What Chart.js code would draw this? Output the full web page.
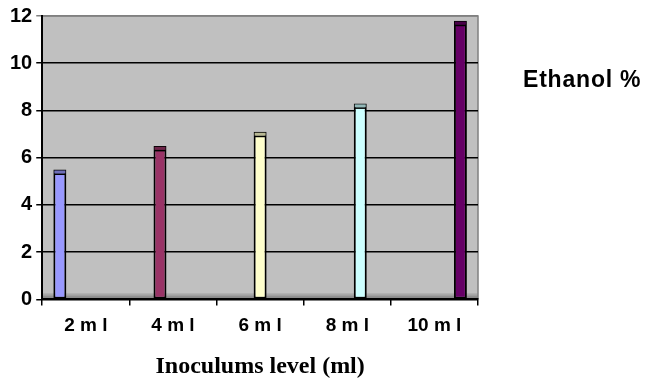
<!DOCTYPE html>
<html>
<head>
<meta charset="utf-8">
<script src="https://cdn.jsdelivr.net/npm/chart.js@4/dist/chart.umd.min.js"></script>
<style>
html,body{margin:0;padding:0;background:#fff;}
#wrap{position:relative;width:651px;height:385px;}
</style>
</head>
<body>
<div id="wrap"><canvas id="c" width="651" height="385"></canvas></div>
<script>
const categories = ["2 m l", "4 m l", "6 m l", "8 m l", "10 m l"];
const ethanol = [5.5, 6.5, 7.1, 8.3, 11.8];
const barColors = ["#9999FF", "#993366", "#FFFFCC", "#CCFFFF", "#660066"];
const capColors = ["#6E6EB8", "#6E2549", "#B8B893", "#93B8B8", "#490049"];
const yTicks = [0, 2, 4, 6, 8, 10, 12];
const legendText = "Ethanol %";
const xTitle = "Inoculums level (ml)";

const datasets = ethanol.map((v, i) => ({
  label: legendText,
  data: categories.map((c, j) => (j === i ? v : null)),
  backgroundColor: barColors[i],
  borderColor: "#000",
  borderWidth: 2,
  borderSkipped: false,
  categoryPercentage: 0.745,
  barPercentage: 1.0,
  grouped: true
}));

const bgPlugin = {
  id: "bg",
  beforeDraw(chart) {
    const {ctx, chartArea: a} = chart;
    ctx.save();
    ctx.fillStyle = "#C0C0C0";
    ctx.fillRect(a.left, a.top, a.right - a.left, a.bottom - a.top);
    ctx.fillStyle = "#A8A8A8";
    ctx.fillRect(a.left, a.bottom - 6, a.right - a.left, 2);
    ctx.fillStyle = "#909090";
    ctx.fillRect(a.left, a.bottom - 4, a.right - a.left, 2);
    ctx.fillStyle = "#787878";
    ctx.fillRect(a.left, a.bottom - 2, a.right - a.left, 2);
    ctx.strokeStyle = "#808080";
    ctx.lineWidth = 1.5;
    ctx.beginPath();
    ctx.moveTo(a.left, a.top);
    ctx.lineTo(a.right, a.top);
    ctx.lineTo(a.right, a.bottom);
    ctx.stroke();
    ctx.restore();
  },
  afterDatasetsDraw(chart) {
    const {ctx} = chart;
    ctx.save();
    chart.data.datasets.forEach((ds, i) => {
      const meta = chart.getDatasetMeta(i);
      meta.data.forEach((el, j) => {
        if (ds.data[j] == null) return;
        const p = el.getProps(["x", "y", "width"], true);
        const l = p.x - p.width / 2 + 1, w = p.width - 2;
        ctx.fillStyle = capColors[i];
        ctx.fillRect(l, p.y + 1, w, 3);
        ctx.fillStyle = "#000";
        ctx.fillRect(l, p.y + 4, w, 1.5);
      });
    });
    ctx.restore();
  },
  afterDraw(chart) {
    const {ctx} = chart;
    ctx.save();
    ctx.fillStyle = "#000";
    ctx.font = "bold 23px 'Liberation Sans', Arial, sans-serif";
    if ("letterSpacing" in ctx) ctx.letterSpacing = "0.8px";
    ctx.textBaseline = "middle";
    ctx.fillText(legendText, 523, 81);
    ctx.restore();
  }
};

new Chart(document.getElementById("c"), {
  type: "bar",
  data: {labels: categories, datasets},
  options: {
    responsive: false,
    animation: false,
    devicePixelRatio: 1,
    layout: {padding: {left: 6, top: 6, right: 173, bottom: 0}},
    plugins: {legend: {display: false}, tooltip: {enabled: false}},
    scales: {
      x: {
        offset: true,
        grid: {offset: true, drawOnChartArea: false, color: "#000", lineWidth: 1.5, tickLength: 6},
        border: {color: "#000", width: 2},
        ticks: {color: "#000", font: {family: "'Liberation Sans', Arial, sans-serif", weight: "bold", size: 19}, padding: 9, maxRotation: 0},
        title: {display: true, text: xTitle, color: "#000", font: {family: "'Liberation Serif', 'Times New Roman', serif", weight: "bold", size: 24}, padding: {top: 6, bottom: 4}}
      },
      y: {
        min: 0, max: 12,
        afterBuildTicks(scale) { scale.ticks = yTicks.map(v => ({value: v})); },
        grid: {color: (c) => (c.tick && c.tick.value === 12 ? "#808080" : "#000"), lineWidth: 1.5, tickLength: 6},
        border: {color: "#000", width: 2},
        ticks: {color: "#000", font: {family: "'Liberation Sans', Arial, sans-serif", weight: "bold", size: 20}, padding: 4}
      }
    }
  },
  plugins: [bgPlugin]
});
</script>
</body>
</html>
